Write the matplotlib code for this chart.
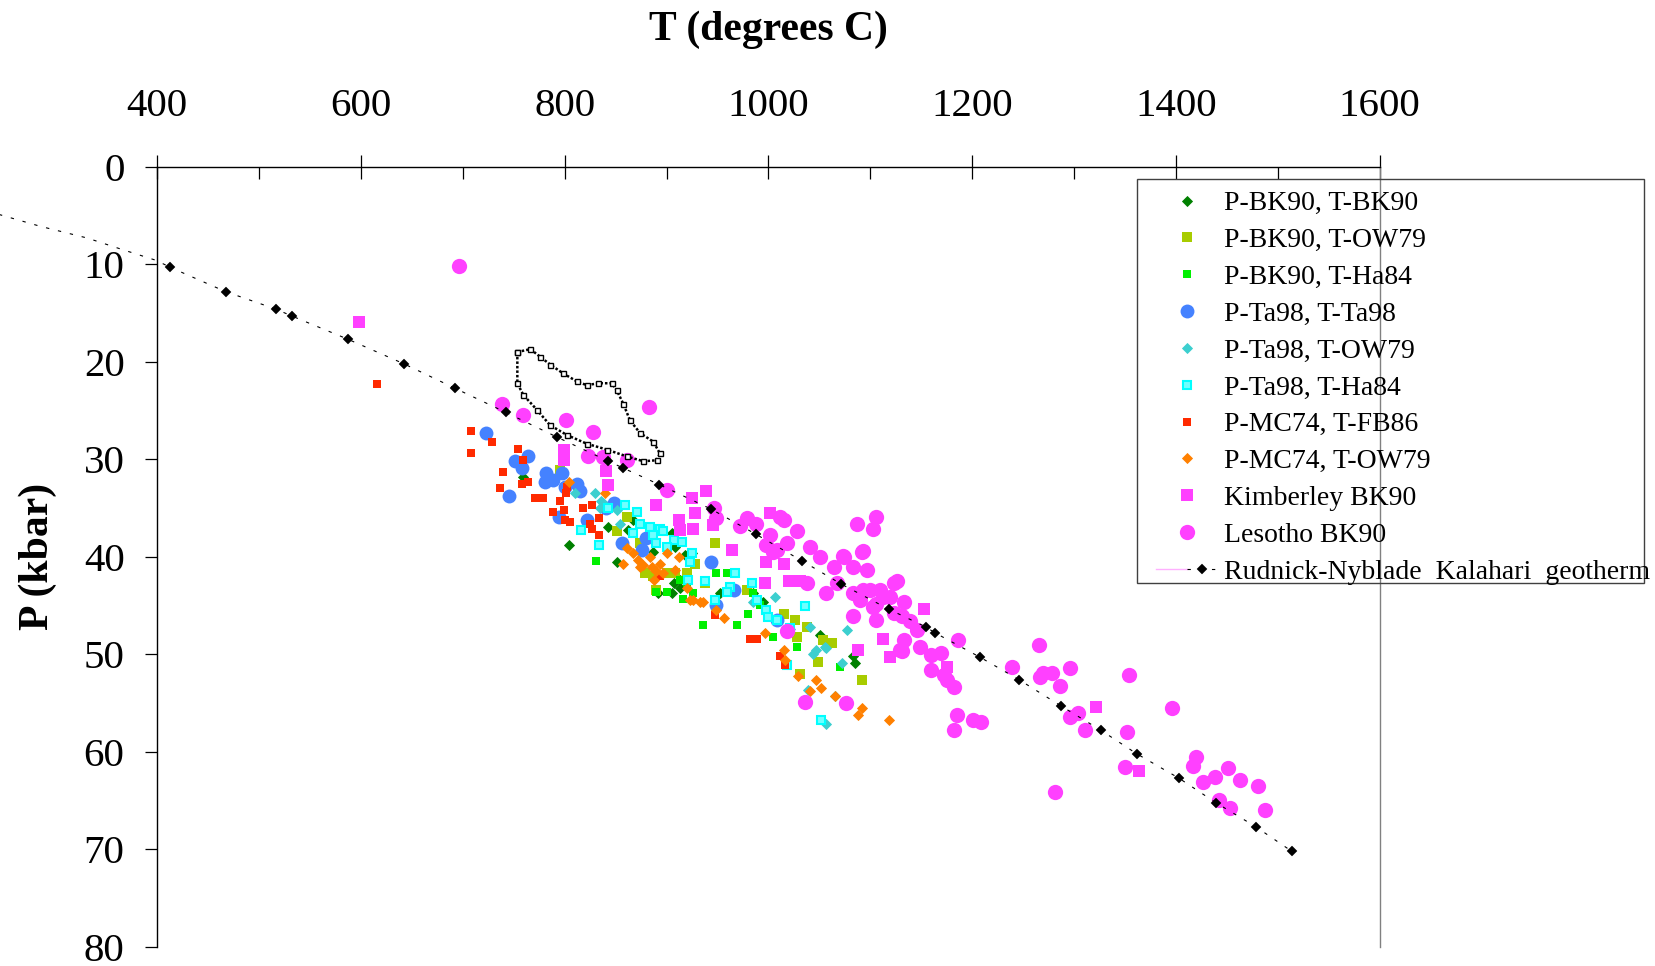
import matplotlib
matplotlib.use('Agg')
import matplotlib.pyplot as plt
from matplotlib.lines import Line2D
from matplotlib.legend_handler import HandlerTuple
from matplotlib.patches import Rectangle
from matplotlib.ticker import MultipleLocator

plt.rcParams['font.family'] = ['Liberation Serif', 'DejaVu Serif']

# ---------------- data (T in degrees C, P in kbar) ----------------
bk90_bk90_T = [759, 804.5, 843, 851, 892, 907, 913, 918, 908, 952.5, 995, 1051, 1083, 1085,
               862.5, 867, 887, 905, 913, 905, 925, 985]
bk90_bk90_P = [31.8, 38.8, 36.9, 40.5, 43.7, 42.7, 43.2, 39.8, 39.0, 43.7, 44.6, 48.0, 50.2, 50.9,
               37.2, 36.2, 39.5, 37.6, 42.4, 43.7, 39.6, 43.7]

bk90_ow79_T = [795, 851, 861, 879, 887, 890, 908, 920, 928, 948, 979, 1015, 1026, 1038, 1054,
               1062, 1049, 1092, 874, 900, 938, 1031, 1028]
bk90_ow79_P = [31.1, 37.4, 35.9, 41.7, 42.0, 43.4, 41.7, 41.7, 40.7, 38.6, 43.4, 45.9, 46.5, 47.2, 48.5,
               48.8, 50.8, 52.6, 38.6, 41.7, 42.7, 52.0, 48.2]

bk90_ha84_T = [831, 890, 900, 913, 920, 916.5, 926, 936, 949, 959, 969, 980, 985, 1005, 1028, 1070, 992]
bk90_ha84_P = [40.4, 43.6, 43.6, 42.4, 42.7, 44.3, 43.7, 47.0, 41.7, 41.7, 47.0, 45.9, 43.7, 48.2, 49.2, 51.3, 44.9]

ta98_ta98_T = [723, 764, 758, 751, 745, 782, 789, 781, 797, 800, 812, 815, 794, 822, 848, 841, 856,
               876, 944, 949, 966, 1008, 880]
ta98_ta98_P = [27.3, 29.7, 30.9, 30.2, 33.8, 31.4, 32.1, 32.3, 31.4, 32.8, 32.5, 33.2, 35.9, 36.2, 34.5,
               35.0, 38.6, 39.3, 40.5, 44.9, 43.4, 46.5, 38.1]

ta98_ow79_T = [810, 830, 838, 835, 851, 854, 1006.5, 985, 1041, 1047, 1055.5, 1077, 1072, 836, 1021,
               1044, 1057, 1039, 1065, 1057]
ta98_ow79_P = [33.5, 33.5, 34.5, 35.0, 35.2, 36.6, 44.1, 44.6, 47.2, 49.6, 49.3, 47.5, 50.9, 34.3, 47.4,
               50.0, 49.4, 53.7, 54.3, 57.1]

ta98_ha84_T = [843, 859, 871, 874, 884, 894, 897, 887, 890, 907, 915, 867, 816, 834, 925, 923, 967,
               938, 984, 962, 959, 948, 988.5, 998, 1000, 1008, 1036, 1021, 1018, 900, 921, 1052]
ta98_ha84_P = [35.0, 34.7, 35.4, 36.6, 36.9, 37.1, 37.4, 37.8, 38.6, 38.3, 38.5, 37.6, 37.3, 38.8, 39.6,
               40.5, 41.7, 42.5, 42.7, 43.1, 43.6, 44.4, 44.4, 45.5, 46.2, 46.5, 45.0, 47.3, 51.1, 39.0,
               42.4, 56.7]

mc74_fb86_T = [616, 708, 708, 729, 754.5, 759, 739, 736.5, 758, 764, 771, 779, 789, 799, 795, 801, 802,
               800, 805, 818, 826.5, 825, 826.5, 834, 834, 894, 982, 988.5, 1011, 1016, 948]
mc74_fb86_P = [22.3, 27.1, 29.4, 28.2, 28.9, 30.1, 31.3, 32.9, 32.5, 32.3, 34.0, 34.0, 35.4, 35.2, 34.3,
               33.5, 32.8, 36.2, 36.4, 35.0, 34.7, 36.6, 37.1, 37.8, 36.0, 42.0, 48.4, 48.4, 50.2, 51.1, 46.0]

mc74_ow79_T = [804, 840, 861, 867, 872, 877, 884, 886, 894, 890, 900, 912, 908, 857.5, 888, 920, 926,
               936, 949, 956, 997, 1015, 1016, 1029, 1047, 1052, 1041, 1065, 1092, 1088, 1118, 874, 897,
               923, 933]
mc74_ow79_P = [32.3, 33.5, 39.1, 39.6, 40.3, 40.8, 40.0, 41.0, 40.7, 41.5, 39.6, 40.0, 41.4, 40.7, 42.4,
               43.2, 44.4, 44.6, 45.5, 46.3, 47.8, 49.6, 50.6, 52.2, 52.6, 53.5, 53.8, 54.3, 55.5, 56.2,
               56.7, 41.0, 41.7, 44.4, 44.6]

kimberley_T = [598, 799, 799, 841, 843, 939, 925, 890, 928, 912, 913, 926, 946, 1002, 964, 998, 1015,
               1020, 997, 1031, 1113, 1088, 1119, 1153, 1175, 1322, 1364]
kimberley_P = [15.9, 29.0, 30.1, 31.2, 32.6, 33.2, 34.0, 34.7, 35.5, 36.2, 37.2, 37.1, 36.7, 35.5, 39.3,
               40.5, 40.7, 42.5, 42.7, 42.5, 48.4, 49.6, 50.3, 45.4, 51.3, 55.4, 62.0]

lesotho_T = [696, 738, 759, 801, 828, 883, 823, 838, 861, 900, 947, 949, 979, 972, 988,
             1002, 1015, 1028, 1041, 1018, 998, 1005, 1011, 1008, 1087, 1106, 1103, 1092,
             1051, 1064, 1074, 1083, 1093, 1097, 1073, 1038, 1057, 1067, 1083, 1093, 1103, 1113,
             1123, 1123, 1126, 1100, 1110, 1090, 1106, 1119, 1133, 1083, 1106, 1131, 1139,
             1146, 1133, 1149, 1160, 1131, 1169, 1129, 1160, 1172, 1175, 1182, 1186,
             1266, 1239, 1270, 1278, 1296, 1267, 1286, 1354, 1396, 1296, 1304, 1311, 1352, 1350, 1281,
             1420, 1417, 1427, 1438, 1451, 1463, 1481, 1442, 1453, 1488,
             1018, 1036, 1076, 1185, 1201, 1209, 1182]
lesotho_P = [10.2, 24.3, 25.5, 26.0, 27.2, 24.6, 29.7, 29.8, 30.1, 33.1, 35.0, 36.0, 36.0, 36.8, 36.6,
             37.8, 36.2, 37.4, 39.0, 38.6, 38.8, 39.5, 35.9, 39.3, 36.6, 35.9, 37.1, 39.5,
             40.0, 41.0, 40.0, 41.0, 39.4, 41.4, 39.9, 42.7, 43.7, 42.7, 43.7, 43.4, 45.1, 44.1,
             42.7, 45.8, 42.5, 43.4, 43.4, 44.4, 44.8, 44.1, 44.6, 46.1, 46.5, 46.1, 46.6,
             47.5, 48.5, 49.2, 50.1, 49.7, 49.9, 49.6, 51.6, 52.1, 52.6, 53.4, 48.5,
             49.0, 51.3, 51.9, 51.9, 51.4, 52.3, 53.3, 52.1, 55.5, 56.4, 56.0, 57.8, 58.0, 61.6, 64.1,
             60.5, 61.5, 63.1, 62.6, 61.7, 62.9, 63.5, 64.9, 65.8, 66.0,
             47.6, 54.9, 55.0, 56.2, 56.7, 56.9, 57.8]

geotherm_T = [412.5, 467, 516.5, 532, 587.5, 642, 692, 742.4, 792, 843, 857.5, 893, 943.6, 988,
              1032.7, 1071.6, 1118.7, 1154.7, 1163.6, 1207.8, 1246, 1287.3, 1326.6, 1361.6, 1403,
              1439, 1478.7, 1513.8]
geotherm_P = [10.3, 12.8, 14.6, 15.3, 17.7, 20.2, 22.7, 25.2, 27.7, 30.2, 30.9, 32.6, 35.1, 37.7,
              40.4, 42.8, 45.4, 47.2, 47.8, 50.3, 52.6, 55.3, 57.8, 60.2, 62.7, 65.2, 67.7, 70.2]

geotherm_ext_T = [240, 285, 331, 366, 399, 412.5]
geotherm_ext_P = [4.75, 6.1, 7.3, 8.5, 9.6, 10.3]

field_T = [753.5, 766.3, 776.1, 786, 798.6, 811.8, 821.6, 833, 846.2, 851, 857.5, 864.1, 873.9, 887,
           893.5, 890.3, 877.2, 860.9, 841.2, 821.6, 802, 785.6, 772.5, 759.4, 753.5, 753.5]
field_P = [19.0, 18.7, 19.5, 20.3, 21.2, 22.0, 22.4, 22.2, 22.2, 22.9, 24.3, 26.0, 27.3, 28.2,
           29.4, 30.1, 30.2, 29.7, 29.0, 28.4, 27.5, 26.5, 24.9, 23.4, 22.2, 19.0]

labels = ['P-BK90, T-BK90', 'P-BK90, T-OW79', 'P-BK90, T-Ha84', 'P-Ta98, T-Ta98',
          'P-Ta98, T-OW79', 'P-Ta98, T-Ha84', 'P-MC74, T-FB86', 'P-MC74, T-OW79',
          'Kimberley BK90', 'Lesotho BK90', 'Rudnick-Nyblade  Kalahari  geotherm']
x_ticks = [400, 600, 800, 1000, 1200, 1400, 1600]
y_ticks = [0, 10, 20, 30, 40, 50, 60, 70, 80]

# ---------------- figure ----------------
W, H = 1655, 966
fig = plt.figure(figsize=(W / 100, H / 100), dpi=100)
ax = fig.add_axes([157.3 / W, 1 - 946.8 / H, (1379.5 - 157.3) / W, 780.0 / H])
ax.set_xlim(400, 1600)
ax.set_ylim(80, 0)

series = [
    (bk90_bk90_T, bk90_bk90_P, dict(marker='D', ms=5.0, mfc='#008000', mec='#008000', mew=0.6)),
    (bk90_ow79_T, bk90_ow79_P, dict(marker='s', ms=6.5, mfc='#A8CC00', mec='#A8CC00', mew=0)),
    (bk90_ha84_T, bk90_ha84_P, dict(marker='s', ms=6.3, mfc='#00F000', mec='#00F000', mew=0)),
    (ta98_ta98_T, ta98_ta98_P, dict(marker='o', ms=10, mfc='#4582FF', mec='#4582FF', mew=0)),
    (ta98_ow79_T, ta98_ow79_P, dict(marker='D', ms=5.6, mfc='#3CCFCF', mec='#3CCFCF', mew=0.6)),
    (ta98_ha84_T, ta98_ha84_P, dict(marker='s', ms=6.3, mfc='#70FFFF', mec='#00FFFF', mew=1.5)),
    (mc74_fb86_T, mc74_fb86_P, dict(marker='s', ms=6.3, mfc='#FF2A00', mec='#FF2A00', mew=0)),
    (mc74_ow79_T, mc74_ow79_P, dict(marker='D', ms=5.6, mfc='#FF8000', mec='#FF8000', mew=0.6)),
    (kimberley_T, kimberley_P, dict(marker='s', ms=8.8, mfc='#FF40FF', mec='#FF40FF', mew=0)),
    (lesotho_T, lesotho_P, dict(marker='o', ms=11, mfc='#FF40FF', mec='#FF40FF', mew=0)),
]

handles = []
for (t, p, st), lab in zip(series, labels[:10]):
    h, = ax.plot(t, p, linestyle='none', **st)
    handles.append(h)

# field outline
ax.plot(field_T, field_P, color='black', lw=1.8, linestyle=(0, (1.0, 0.8)), zorder=4)
ax.plot(field_T, field_P, linestyle='none', marker='s', ms=3.6, mfc='white', mec='black', mew=1.0,
        zorder=4)

# geotherm
gstyle = dict(color='black', lw=0.8, linestyle=(0, (3, 8)))
ax.plot(geotherm_ext_T, geotherm_ext_P, clip_on=False, zorder=5, **gstyle)
gline, = ax.plot(geotherm_T, geotherm_P, marker='D', ms=5.0, mfc='black', mec='black', mew=0.3,
                 zorder=6, **gstyle)
pink = Line2D([], [], color='#FFB0FF', lw=1.0)
handles.append((pink, gline))

# axes styling
ax.xaxis.tick_top()
ax.set_xticks(x_ticks)
ax.set_xticklabels([str(v) for v in x_ticks])
ax.xaxis.set_minor_locator(MultipleLocator(100))
ax.set_yticks(y_ticks)
ax.set_yticklabels([str(v) for v in y_ticks])
ax.tick_params(axis='x', which='major', direction='inout', length=17, width=0.9,
               labelsize=29.5, pad=21.5, top=True, bottom=False)
ax.tick_params(axis='x', which='minor', direction='in', length=8.6, width=0.9, top=True, bottom=False)
ax.tick_params(axis='y', which='major', direction='out', length=8.6, width=0.9,
               labelsize=29.5, pad=15)
ax.spines['bottom'].set_visible(False)
ax.spines['top'].set_color('black')
ax.spines['top'].set_linewidth(1.0)
ax.spines['left'].set_color('black')
ax.spines['left'].set_linewidth(1.0)
ax.spines['right'].set_color('#808080')
ax.spines['right'].set_linewidth(1.0)

fig.text(768 / W, 1 - 40 / H, 'T (degrees C)', ha='center', va='baseline',
         fontsize=30, fontweight='bold')
fig.text(38 / W, 1 - 556 / H, 'P (kbar)', ha='center', va='center', rotation=90,
         fontsize=30, fontweight='bold')

# legend
leg = fig.legend(handles, labels, loc='upper left', bbox_to_anchor=(1156 / W, 1 - 190.8 / H),
                 frameon=False, fontsize=20, borderpad=0, borderaxespad=0,
                 handlelength=2.23, handletextpad=0.2, labelspacing=0.41, numpoints=1,
                 handler_map={tuple: HandlerTuple(ndivide=None)})
fig.patches.append(Rectangle((1137 / W, 1 - 583 / H), (1644 - 1137) / W, (583 - 179) / H,
                             transform=fig.transFigure, fill=False, edgecolor='#404040', lw=1.0))

fig.savefig('out.png', dpi=100)
